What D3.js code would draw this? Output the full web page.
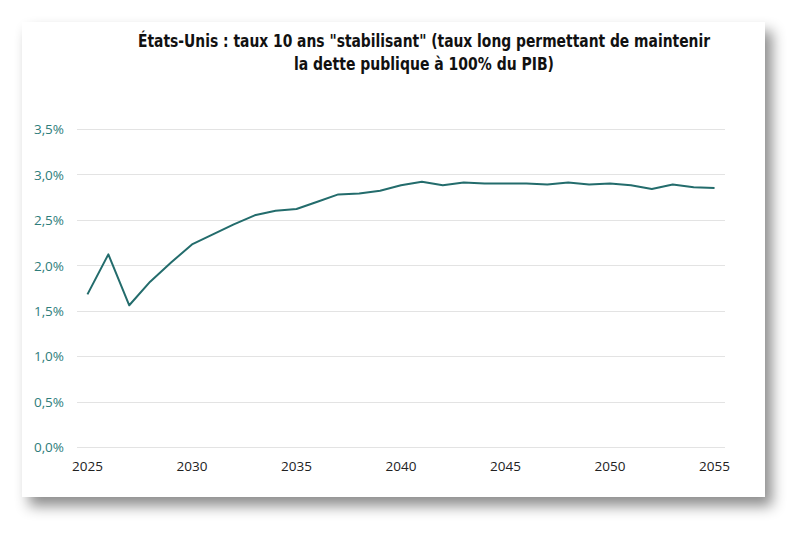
<!DOCTYPE html>
<html lang="fr">
<head>
<meta charset="UTF-8">
<title>Taux 10 ans stabilisant</title>
<style>
    body { margin: 0; background: #fff; }
    .title text { font-family: "DejaVu Sans Condensed", "Open Sans", sans-serif; font-weight: bold; font-size: 18.5px; fill: #111; }
    .y-axis text { font-family: "Open Sans", sans-serif; font-size: 13.5px; fill: #2e7d7b; }
    .x-axis text { font-family: "Open Sans", sans-serif; font-size: 13.5px; fill: #222; }
    .grid line { stroke: #e3e3e3; stroke-width: 1; }
</style>
<script src="https://d3js.org/d3.v7.min.js"></script>
</head>
<body>
<script>
// data
const years = d3.range(2025, 2056);
const rates = [1.68, 2.12, 1.56, 1.82, 2.03, 2.23, 2.34, 2.45, 2.55, 2.60,
               2.62, 2.70, 2.78, 2.79, 2.82, 2.88, 2.92, 2.88, 2.91, 2.90,
               2.90, 2.90, 2.89, 2.91, 2.89, 2.90, 2.88, 2.84, 2.89, 2.86, 2.85];
const yTicks = [0, 0.5, 1, 1.5, 2, 2.5, 3, 3.5];
const xTickYears = [2025, 2030, 2035, 2040, 2045, 2050, 2055];
const titleLines = [
    "États-Unis : taux 10 ans \"stabilisant\" (taux long permettant de maintenir",
    "la dette publique à 100% du PIB)"
];
const titleWidths = [572, 260]; // condensed like the original font

const W = 795, H = 541;
const svg = d3.select("body").append("svg").attr("width", W).attr("height", H);

// card with drop shadow
const defs = svg.append("defs");
const f = defs.append("filter").attr("id", "shadow")
    .attr("x", "-10%").attr("y", "-10%").attr("width", "130%").attr("height", "140%");
f.append("feDropShadow").attr("dx", 7).attr("dy", 9).attr("stdDeviation", 7)
    .attr("flood-color", "#000").attr("flood-opacity", 0.45);

svg.append("rect")
    .attr("x", 22).attr("y", 22).attr("width", 743).attr("height", 475)
    .attr("fill", "#fff").attr("filter", "url(#shadow)");

// title
const title = svg.append("g").attr("class", "title");
title.selectAll("text").data(titleLines).enter().append("text")
    .attr("x", 424).attr("y", (d, i) => 47 + i * 22.5)
    .attr("text-anchor", "middle")
    .attr("textLength", (d, i) => titleWidths[i])
    .attr("lengthAdjust", "spacingAndGlyphs")
    .text(d => d);

// scales
const plot = { left: 77, right: 725, top: 129, bottom: 447 };
const x = d3.scaleBand().domain(years).range([plot.left, plot.right]);
const y = d3.scaleLinear().domain([0, 3.5]).range([plot.bottom, plot.top]);
const fmt = v => d3.format(".1f")(v).replace(".", ",") + "%";

// gridlines
svg.append("g").attr("class", "grid")
    .selectAll("line").data(yTicks).enter().append("line")
    .attr("x1", plot.left).attr("x2", plot.right)
    .attr("y1", d => Math.round(y(d)) + 0.5).attr("y2", d => Math.round(y(d)) + 0.5);

// y axis
const yAxis = svg.append("g").attr("class", "y-axis")
    .attr("transform", `translate(${plot.left - 13},0)`)
    .call(d3.axisLeft(y).tickValues(yTicks).tickFormat(fmt).tickSize(0).tickPadding(0));
yAxis.select(".domain").remove();
yAxis.selectAll("text").attr("dy", "0.35em");

// x axis
const xAxis = svg.append("g").attr("class", "x-axis")
    .attr("transform", `translate(0,${plot.bottom + 13})`)
    .call(d3.axisBottom(x).tickValues(xTickYears).tickSize(0).tickPadding(0));
xAxis.select(".domain").remove();
xAxis.selectAll("text").attr("dy", "0.85em");

// line
const line = d3.line()
    .x((d, i) => x(years[i]) + x.bandwidth() / 2)
    .y(d => y(d));
svg.append("path").datum(rates)
    .attr("fill", "none").attr("stroke", "#236c6c").attr("stroke-width", 2)
    .attr("stroke-linejoin", "round")
    .attr("d", line);
</script>
</body>
</html>
